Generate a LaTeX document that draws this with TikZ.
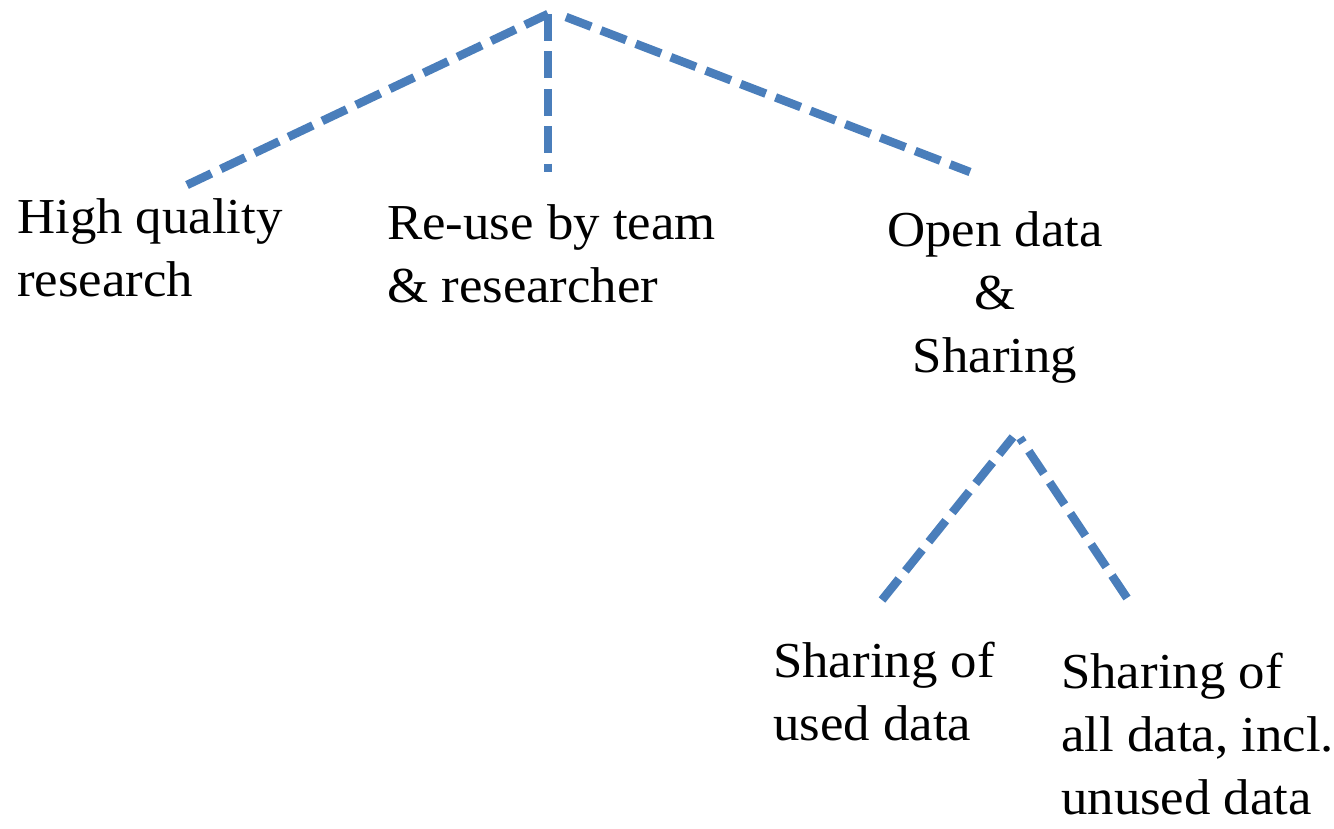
\documentclass[tikz,border=0pt]{standalone}
\usepackage{fontspec}
\setmainfont{Liberation Serif}[FakeStretch=1.05]
\begin{document}
\begin{tikzpicture}[x=1pt,y=-1pt,
  branch/.style={draw=branchblue, line width=8.5pt, line cap=butt,
    dash pattern=on 27pt off 10.4pt},
  label/.style={inner sep=0pt, font=\fontsize{50.3}{63}\selectfont}]
\definecolor{branchblue}{HTML}{4A7EBB}
\useasboundingbox (0,0) rectangle (1334,829);

% labels (anchored at the baseline of their last line)
\node[label, anchor=base west, align=left] (hq) at (17,297)
  {High quality\\research};
\node[label, anchor=base west, align=left] (reuse) at (387,302)
  {Re-use by team\\\& researcher};
\node[label, anchor=base, align=center] (open) at (995,372)
  {Open data\\\&\\Sharing};
\node[label, anchor=base west, align=left] (used) at (773,740)
  {Sharing of\\used data};
\node[label, anchor=base west, align=left] (all) at (1061,814)
  {Sharing of\\all data, incl.\\unused data};

% branch end points
\coordinate (top) at (548,14);
\coordinate (topR) at (566,17);
\coordinate (hqEnd) at (187,185);
\coordinate (reuseEnd) at (548,172);
\coordinate (openEnd) at (970,172);
\coordinate (sub) at (1013,437);
\coordinate (subR) at (1020,438);
\coordinate (usedEnd) at (882,600);
\coordinate (allEnd) at (1127,598);

% upper tree
\draw[branch] (hqEnd) -- (top);
\draw[branch] (top) -- (reuseEnd);
\draw[branch] (topR) -- (openEnd);

% lower tree
\draw[branch] (usedEnd) -- (sub);
\draw[branch] (allEnd) -- (subR);
\end{tikzpicture}
\end{document}
